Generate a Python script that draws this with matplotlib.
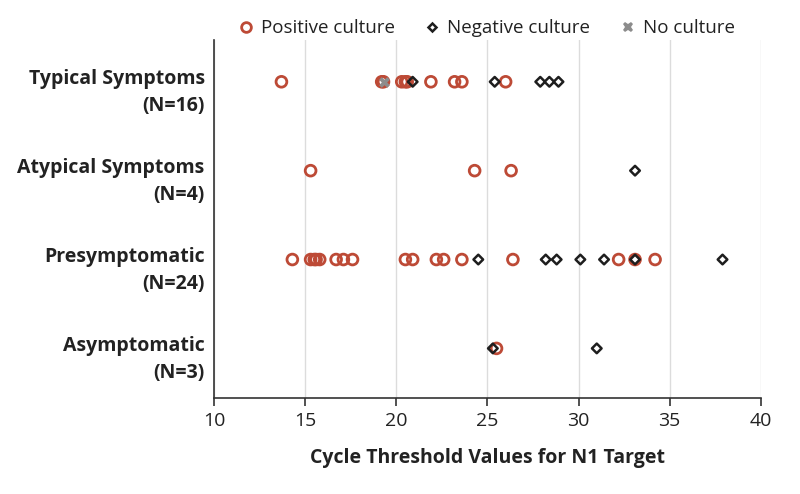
import matplotlib
matplotlib.use("Agg")
import matplotlib.pyplot as plt
from matplotlib.lines import Line2D
from matplotlib.transforms import blended_transform_factory

categories = ["Typical Symptoms\n(N=16)", "Atypical Symptoms\n(N=4)",
              "Presymptomatic\n(N=24)", "Asymptomatic\n(N=3)"]

positive = [
    [13.7, 19.2, 19.3, 20.3, 20.5, 20.6, 21.9, 23.2, 23.6, 26.0],
    [15.3, 24.3, 26.3],
    [14.3, 15.3, 15.5, 15.6, 15.8, 16.7, 17.1, 17.6, 20.5, 20.9, 22.2, 22.6,
     23.6, 26.4, 32.2, 33.1, 34.2],
    [25.5],
]
negative = [
    [20.9, 25.4, 27.9, 28.4, 28.9],
    [33.1],
    [24.5, 28.2, 28.8, 30.1, 31.4, 33.1, 37.9],
    [25.3, 31.0],
]
noculture = [
    [19.3],
    [],
    [],
    [],
]

xticks = [10, 15, 20, 25, 30, 35, 40]

RED = "#bd4a36"
DARK = "#1e1e1e"
GREY = "#8c8c8c"
plt.rcParams['font.family'] = ['Open Sans', 'DejaVu Sans']

fig = plt.figure(figsize=(8, 4.94), dpi=100)
ax = fig.add_axes([0.2675, 0.194, 0.951 - 0.2675, 0.919 - 0.194])

for i in range(len(categories)):
    ax.scatter(positive[i], [i] * len(positive[i]), marker='o', s=60,
               facecolors='none', edgecolors=RED, linewidths=2, zorder=3)
    ax.scatter(negative[i], [i] * len(negative[i]), marker='D', s=24,
               facecolors='none', edgecolors=DARK, linewidths=1.8, zorder=4)
    if noculture[i]:
        ax.scatter(noculture[i], [i] * len(noculture[i]), marker='X', s=60,
                   color=GREY, linewidths=0, zorder=5)

ax.set_xlim(10, 40)
ax.set_ylim(3.56, -0.47)
ax.set_xticks(xticks)
ax.set_xticklabels([str(t) for t in xticks], fontsize=14, color="#222222")
ax.set_yticks([])
ax.grid(axis='x', color='#dcdcdc', linewidth=1)
ax.set_axisbelow(True)
for s in ['top', 'right']:
    ax.spines[s].set_visible(False)
ax.spines['left'].set_color('#333333')
ax.spines['bottom'].set_color('#333333')
ax.spines['left'].set_linewidth(1.2)
ax.spines['bottom'].set_linewidth(1.2)
ax.tick_params(axis='x', direction='out', length=6, width=1.2, color='#333333', pad=4)

trans = blended_transform_factory(ax.transAxes, ax.transData)
for i, lab in enumerate(categories):
    ax.text(-0.017, i - 0.14, lab, transform=trans, ha='right', va='top',
            fontsize=14, fontweight='bold', color='#222222', linespacing=1.45)

ax.set_xlabel("Cycle Threshold Values for N1 Target", fontsize=14,
              fontweight='bold', color='#222222', labelpad=13)

handles = [
    Line2D([], [], marker='o', linestyle='none', markerfacecolor='none',
           markeredgecolor=RED, markeredgewidth=2, markersize=7),
    Line2D([], [], marker='D', linestyle='none', markerfacecolor='none',
           markeredgecolor=DARK, markeredgewidth=1.8, markersize=4.5),
    Line2D([], [], marker='X', linestyle='none', color=GREY,
           markeredgewidth=0, markersize=7.5),
]
fig.legend(handles, ["Positive culture", "Negative culture", "No culture"],
           loc='center', bbox_to_anchor=(0.606, 0.943), ncol=3, frameon=False,
           fontsize=13.5, handletextpad=0.2, columnspacing=1.4, handlelength=1.2,
           labelcolor='#222222')

fig.savefig("out.png", dpi=100)
